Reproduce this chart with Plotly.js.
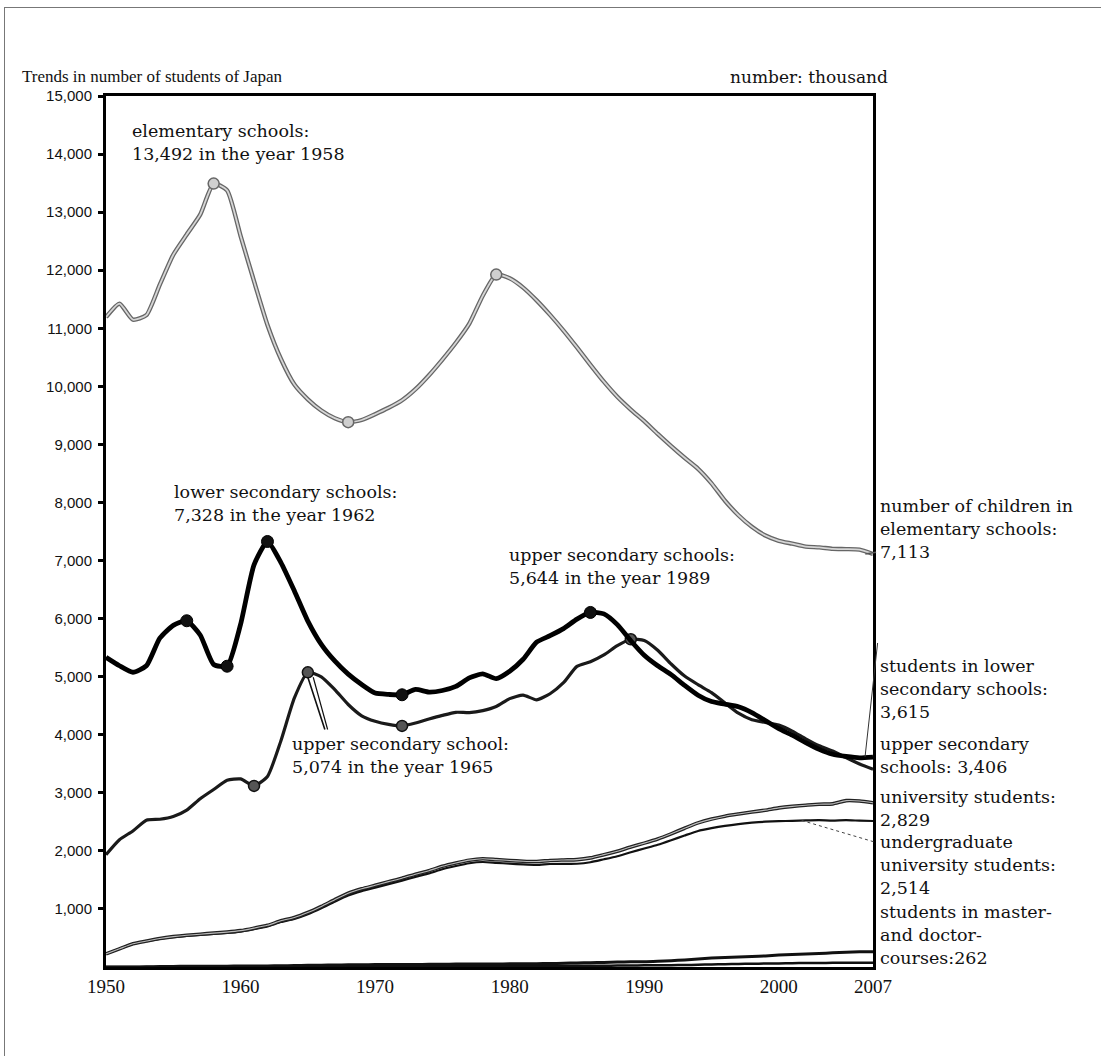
<!DOCTYPE html>
<html>
<head>
<meta charset="utf-8">
<script src="https://cdn.plot.ly/plotly-3.0.1.min.js"></script>
<style>
  html, body { margin: 0; padding: 0; background: #fff; }
  #wrap { position: relative; width: 1101px; height: 1056px; }
  #frame { position: absolute; left: 4px; top: 7px; width: 1097px; height: 1049px;
           border-left: 1px solid #777; border-top: 1px solid #777; pointer-events: none; z-index: 5; }
  #chart { position: absolute; left: 0; top: 0; width: 1101px; height: 1056px; }
</style>
</head>
<body>
<div id="wrap"><div id="chart"></div><div id="frame"></div></div>
<script>
// ---- data (thousand students) ----
const years = [1950,1951,1952,1953,1954,1955,1956,1957,1958,1959,
               1960,1961,1962,1963,1964,1965,1966,1967,1968,1969,
               1970,1971,1972,1973,1974,1975,1976,1977,1978,1979,
               1980,1981,1982,1983,1984,1985,1986,1987,1988,1989,
               1990,1991,1992,1993,1994,1995,1996,1997,1998,1999,
               2000,2001,2002,2003,2004,2005,2006,2007];

const elementary = [11191,11423,11148,11225,11751,12267,12616,12957,13492,13375,
                    12591,11811,11057,10471,10030,9776,9584,9452,9383,9420,
                    9520,9630,9760,9950,10190,10460,10750,11080,11560,11925,
                    11860,11700,11480,11230,10960,10670,10370,10080,9820,9600,
                    9400,9180,8970,8770,8580,8330,8030,7780,7580,7430,
                    7340,7290,7239,7227,7201,7197,7188,7113];

const lowerSecondary = [5333,5188,5076,5187,5664,5884,5963,5718,5210,5180,
                        5900,6925,7328,6964,6476,5957,5556,5270,5043,4865,
                        4717,4694,4688,4780,4735,4762,4833,4978,5048,4966,
                        5094,5300,5594,5706,5828,5990,6106,6081,5896,5619,
                        5369,5188,5036,4850,4681,4571,4527,4481,4381,4244,
                        4104,3992,3863,3748,3664,3627,3602,3615];

const upperSecondary = [1935,2193,2343,2528,2545,2592,2702,2898,3057,3216,
                        3239,3119,3282,3897,4634,5074,4997,4778,4521,4326,
                        4232,4178,4152,4201,4270,4333,4386,4381,4415,4485,
                        4622,4682,4601,4706,4896,5178,5258,5375,5534,5644,
                        5623,5455,5218,5010,4862,4725,4547,4371,4258,4212,
                        4165,4062,3929,3810,3719,3605,3495,3406];

const universityTotal = [225,313,400,447,491,523,547,565,584,601,
                         626,669,718,795,852,938,1044,1160,1270,1346,
                         1407,1470,1530,1598,1659,1734,1791,1840,1863,1849,
                         1835,1822,1817,1835,1843,1849,1879,1935,1994,2067,
                         2133,2205,2294,2390,2482,2547,2597,2634,2668,2701,
                         2740,2766,2786,2804,2809,2865,2859,2829];

const undergraduate = [224,313,399,444,484,513,535,552,570,586,
                       610,652,700,774,828,910,1012,1125,1232,1306,
                       1367,1428,1487,1553,1612,1684,1739,1787,1808,1794,
                       1780,1766,1758,1774,1777,1778,1804,1855,1908,1976,
                       2040,2105,2183,2265,2343,2391,2431,2462,2485,2502,
                       2512,2516,2524,2528,2521,2528,2520,2514];

const graduate = [0,0,1,3,7,10,12,13,14,15,
                  16,17,18,21,24,28,32,35,38,40,
                  41,42,42,44,46,48,50,51,52,53,
                  54,55,57,60,65,70,74,79,85,90,
                  90,98,109,122,138,154,164,171,179,191,
                  205,216,224,232,244,254,261,262];

const doctor = [0,0,0,0,1,1,2,3,4,5,
                6,6,7,7,8,9,10,11,12,13,
                14,14,15,15,15,16,16,17,17,18,
                18,18,19,19,20,21,22,23,24,26,
                28,30,32,35,38,44,48,52,56,59,
                62,66,68,70,72,75,75,75];

const elementaryMarkYears = [1958, 1968, 1979];
const lowerMarkYears = [1956, 1959, 1962, 1972, 1986];
const upperMarkYears = [1961, 1965, 1972, 1989];

const xTicks = [1950, 1960, 1970, 1980, 1990, 2000, 2007];
const yTicks = [1000,2000,3000,4000,5000,6000,7000,8000,9000,10000,11000,12000,13000,14000,15000];
const yMax = 15000;

// ---- helpers ----
function pick(series, ys) { return ys.map(y => series[years.indexOf(y)]); }
const last = a => a[a.length - 1];

const SERIF = '"DejaVu Serif", "Liberation Serif", serif';
const TSERIF = '"Liberation Serif", "Times New Roman", serif';
const SANS = '"Liberation Sans", Arial, sans-serif';
const sm = 0.55;

const traces = [
  {x: years, y: doctor, mode: 'lines', line: {color: '#111', width: 2.5, shape: 'spline', smoothing: sm}, name: 'doctor courses'},
  {x: years, y: graduate, mode: 'lines', line: {color: '#111', width: 3, shape: 'spline', smoothing: sm}, name: 'master and doctor courses'},
  {x: years, y: undergraduate, mode: 'lines', line: {color: '#111', width: 2.2, shape: 'spline', smoothing: sm}, name: 'undergraduate university students'},
  {x: years, y: universityTotal, mode: 'lines', line: {color: '#222', width: 3.6, shape: 'spline', smoothing: sm}, name: 'university students'},
  {x: years, y: universityTotal, mode: 'lines', line: {color: '#bbb', width: 1.1, shape: 'spline', smoothing: sm}, showlegend: false, hoverinfo: 'skip'},
  {x: years, y: upperSecondary, mode: 'lines', line: {color: '#1a1a1a', width: 3.2, shape: 'spline', smoothing: sm}, name: 'upper secondary schools'},
  {x: upperMarkYears, y: pick(upperSecondary, upperMarkYears), mode: 'markers',
   marker: {size: 11, color: '#555', line: {color: '#111', width: 1.5}}, showlegend: false},
  {x: years, y: lowerSecondary, mode: 'lines', line: {color: '#000', width: 4.8, shape: 'spline', smoothing: sm}, name: 'lower secondary schools'},
  {x: lowerMarkYears, y: pick(lowerSecondary, lowerMarkYears), mode: 'markers',
   marker: {size: 12, color: '#111', line: {color: '#000', width: 1}}, showlegend: false},
  {x: years, y: elementary, mode: 'lines', line: {color: '#666', width: 4.4, shape: 'spline', smoothing: sm}, name: 'elementary schools'},
  {x: years, y: elementary, mode: 'lines', line: {color: '#d6d6d6', width: 1.8, shape: 'spline', smoothing: sm}, showlegend: false, hoverinfo: 'skip'},
  {x: elementaryMarkYears, y: pick(elementary, elementaryMarkYears), mode: 'markers',
   marker: {size: 11, color: '#cfcfcf', line: {color: '#666', width: 1.5}}, showlegend: false}
];

const afont = {family: SERIF, size: 17.5, color: '#111'};
function rlabel(text, yv) {
  return {xref: 'paper', yref: 'y', x: 1.006, y: yv, xanchor: 'left', yanchor: 'middle',
          text: text, showarrow: false, align: 'left', font: afont};
}

const annotations = [
  {xref: 'paper', yref: 'paper', x: -0.112, y: 1.0, yanchor: 'bottom', xanchor: 'left', yshift: 8,
   text: 'Trends in number of students of Japan', showarrow: false, font: {family: TSERIF, size: 17, color: '#111'}},
  {xref: 'paper', yref: 'paper', x: 1.022, y: 1.0, yanchor: 'bottom', xanchor: 'right', yshift: 7,
   text: 'number: thousand', showarrow: false, font: {family: SERIF, size: 17, color: '#111'}},
  {xref: 'x', yref: 'y', x: 1951.8, y: 14198, xanchor: 'left', yanchor: 'middle', align: 'left',
   text: 'elementary schools:<br>13,492 in the year 1958', showarrow: false, font: afont},
  {xref: 'x', yref: 'y', x: 1954.9, y: 7982, xanchor: 'left', yanchor: 'middle', align: 'left',
   text: 'lower secondary schools:<br>7,328 in the year 1962', showarrow: false, font: afont},
  {xref: 'x', yref: 'y', x: 1979.8, y: 6897, xanchor: 'left', yanchor: 'middle', align: 'left',
   text: 'upper secondary schools:<br>5,644 in the year 1989', showarrow: false, font: afont},
  {xref: 'x', yref: 'y', x: 1963.67, y: 3634, xanchor: 'left', yanchor: 'middle', align: 'left',
   text: 'upper secondary school:<br>5,074 in the year 1965', showarrow: false, font: afont},
  // pointer for 1965 (two thin strokes)
  {xref: 'x', yref: 'y', axref: 'x', ayref: 'y', x: 1965.0, y: 4990, ax: 1966.3, ay: 4064,
   text: '', showarrow: true, arrowhead: 0, arrowwidth: 1.6, arrowcolor: '#111'},
  {xref: 'x', yref: 'y', axref: 'x', ayref: 'y', x: 1965.4, y: 4990, ax: 1966.5, ay: 4064,
   text: '', showarrow: true, arrowhead: 0, arrowwidth: 1.2, arrowcolor: '#111'},
  rlabel('number of children in<br>elementary schools:<br>7,113', 7543),
  rlabel('students in lower<br>secondary schools:<br>3,615', 4787),
  rlabel('upper secondary<br>schools: 3,406', 3634),
  rlabel('university students:<br>2,829', 2738),
  rlabel('undergraduate<br>university students:<br>2,514', 1757),
  rlabel('students in master-<br>and doctor-<br>courses:262', 551)
];

const shapes = [
  // leader: lower secondary end -> label
  {type: 'line', xref: 'paper', yref: 'paper', x0: 0.9896, y0: last(lowerSecondary) / yMax, x1: 1.006, y1: 0.372,
   line: {color: '#333', width: 1}},
  // leader: undergraduate -> label (dotted)
  {type: 'line', xref: 'paper', yref: 'paper', x0: 0.907, y0: undergraduate[years.indexOf(2002)] / yMax, x1: 1.004, y1: 0.143,
   line: {color: '#444', width: 1, dash: 'dot'}},
  // leader: elementary end -> label
  {type: 'line', xref: 'paper', yref: 'paper', x0: 0.99, y0: last(elementary) / yMax, x1: 1.004, y1: last(elementary) / yMax + 0.002,
   line: {color: '#555', width: 1.5}}
];

const layout = {
  width: 1101, height: 1056,
  margin: {l: 106, r: 228, t: 96, b: 89},
  paper_bgcolor: '#fff', plot_bgcolor: '#fff',
  showlegend: false,
  xaxis: {
    range: [1950, 2007], tickvals: xTicks, ticktext: xTicks.map(String),
    showgrid: false, zeroline: false, showline: true, linecolor: '#000', linewidth: 3, mirror: true,
    ticks: '', tickfont: {family: TSERIF, size: 19, color: '#111'}
  },
  yaxis: {
    range: [0, yMax], tickvals: yTicks, tickformat: ',d',
    showgrid: false, zeroline: false, showline: true, linecolor: '#000', linewidth: 3, mirror: true,
    ticks: 'outside', ticklen: 5, tickwidth: 3, tickcolor: '#000', ticklabelstandoff: 3,
    tickfont: {family: SANS, size: 15, color: '#111'}
  },
  annotations: annotations,
  shapes: shapes
};

Plotly.newPlot('chart', traces, layout, {displayModeBar: false, staticPlot: true});
</script>
</body>
</html>
